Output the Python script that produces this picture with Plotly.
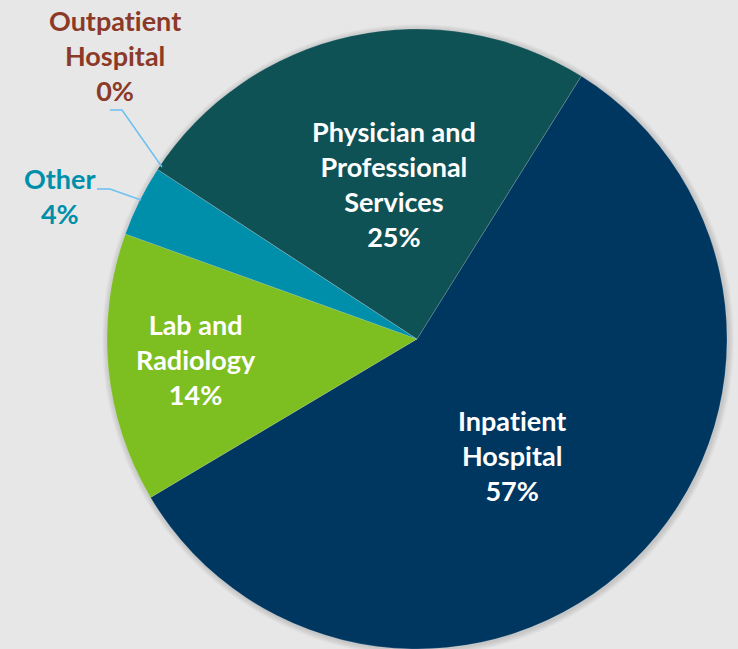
import plotly.graph_objects as go

labels = ["Inpatient Hospital", "Lab and Radiology", "Other", "Outpatient Hospital", "Physician and Professional Services"]
values = [57.4, 14.0, 3.7, 0.0, 24.6]
pct_labels = ["57%", "14%", "4%", "0%", "25%"]
label_lines = ["Inpatient<br>Hospital", "Lab and<br>Radiology", "Other", "Outpatient<br>Hospital", "Physician and<br>Professional<br>Services"]
colors = ["#003761", "#7DBE21", "#008FAA", "#8B3A28", "#0F5256"]
text_colors = ["white", "white", "#008FAA", "#8B3A28", "white"]

W, H = 738, 649
cx, cy, R = 417, 339, 310
ZWNJ = "\u200c"

fig = go.Figure(go.Pie(
    labels=labels,
    values=values,
    textinfo="none",
    sort=False,
    direction="clockwise",
    rotation=32,
    marker=dict(colors=colors, line=dict(color="rgba(255,255,255,0.25)", width=0.6)),
    domain=dict(x=[(cx - R) / W, (cx + R) / W], y=[1 - (cy + R) / H, 1 - (cy - R) / H]),
    showlegend=False,
    hoverinfo="label+percent",
))

def px(x):
    return x / W

def py(y):
    return 1 - y / H

# soft shadow around the pie
for k in range(1, 7):
    r = R + k
    fig.add_shape(type="circle", xref="paper", yref="paper", layer="below",
                  x0=px(cx - r + 1), x1=px(cx + r + 1), y0=py(cy + r + 1), y1=py(cy - r + 1),
                  fillcolor="rgba(0,0,0,0.025)", line=dict(width=0))

# label block centres (pixels)
label_pos = [(512, 455), (196, 360), (60, 196), (115, 55), (394, 184)]

for name, pct, col, (lx, ly) in zip(label_lines, pct_labels, text_colors, label_pos):
    txt = (name + "<br>" + pct).replace("ti", "t" + ZWNJ + "i")
    fig.add_annotation(x=px(lx), y=py(ly), xref="paper", yref="paper",
                       xanchor="center", yanchor="middle",
                       text=txt, showarrow=False,
                       font=dict(family="Lato", size=27, color=col, weight="bold"))

fig.add_shape(type="path", xref="paper", yref="paper",
              path=f"M {px(110)} {py(110)} L {px(122)} {py(110)} L {px(162)} {py(167)}",
              line=dict(color="#6CC0F2", width=1.5))
fig.add_shape(type="path", xref="paper", yref="paper",
              path=f"M {px(97)} {py(189)} L {px(110)} {py(189)} L {px(141)} {py(200)}",
              line=dict(color="#6CC0F2", width=1.5))

fig.update_layout(
    width=W, height=H,
    margin=dict(l=0, r=0, t=0, b=0),
    paper_bgcolor="#E7E7E7",
    plot_bgcolor="#E7E7E7",
)

fig.write_html("out.html", config={"displayModeBar": False},
               post_script="document.body.style.margin='0';")
